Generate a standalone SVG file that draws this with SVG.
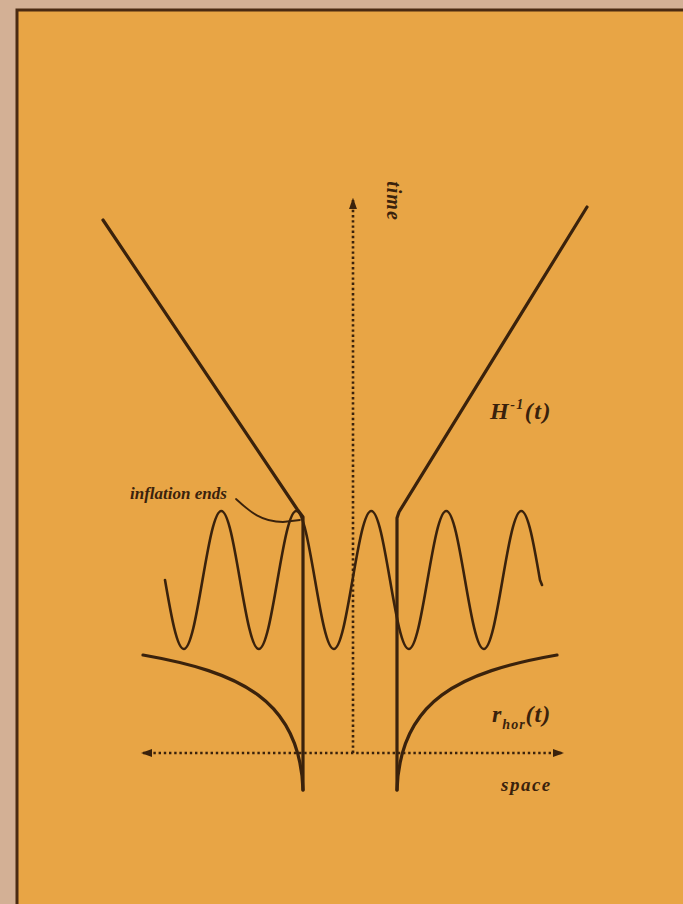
<svg xmlns="http://www.w3.org/2000/svg" width="683" height="904" viewBox="0 0 683 904">
<defs>
<style>
.ln{fill:none;stroke:#3a220c;stroke-linecap:round;stroke-linejoin:round}
.thick{stroke-width:3.2}
.wave{stroke-width:2.6}
.axis{fill:none;stroke:#3a220c;stroke-width:2.6;stroke-dasharray:2.4 2.8}
.lbl{font-family:"Liberation Serif","Times New Roman",serif;font-weight:bold;font-style:italic;fill:#3a220c}
</style>
<marker id="ah" viewBox="0 0 10 10" refX="8" refY="5" markerWidth="4.5" markerHeight="4.5" orient="auto-start-reverse" markerUnits="strokeWidth">
<path d="M0,1.5 L10,5 L0,8.5 z" fill="#3a220c"/>
</marker>
</defs>
<rect x="0" y="0" width="683" height="904" fill="#d3b095"/>
<rect x="17" y="10" width="680" height="910" fill="#e8a545" stroke="#4a2a12" stroke-width="3"/>

<g id="connectors">
<line id="time-axis" class="axis" x1="353" y1="753" x2="353" y2="200" marker-end="url(#ah)"/>
<line id="space-axis" class="axis" x1="143" y1="753" x2="562" y2="753" marker-start="url(#ah)" marker-end="url(#ah)"/>
</g>

<g id="hubble-left">
<path class="ln thick" d="M103,220 L297,509 L303,517 L303,790"/>
</g>
<g id="hubble-right">
<path class="ln thick" d="M587,207 L399,512 L397,518 L397,790"/>
</g>

<g id="wave">
<path class="ln wave" d="M165,580 C171.1,615.4 177,649 183.8,649 S196.4,615.4 202.5,580 S214.5,511 221.3,511 S233.9,544.6 240,580 S252,649 258.8,649 S271.4,615.4 277.5,580 S289.5,511 296.3,511 S308.9,544.6 315,580 S327,649 333.8,649 S346.4,615.4 352.5,580 S364.5,511 371.3,511 S383.9,544.6 390,580 S402,649 408.8,649 S421.4,615.4 427.5,580 S439.5,511 446.3,511 S458.9,544.6 465,580 S477,649 483.8,649 S496.4,615.4 502.5,580 S514.5,511 521.3,511 S533.9,544.6 540,580 L542,585"/>
</g>

<g id="horizon-left">
<path class="ln thick" d="M143,655 C240,672 300,700 303,790"/>
</g>
<g id="horizon-right">
<path class="ln thick" d="M557,655 C460,672 400,700 397,790"/>
</g>

<g id="inflation-ends">
<text class="lbl" x="130" y="499" font-size="17">inflation ends</text>
<path class="ln" stroke-width="1.8" d="M236,499 C250,512 262,522 283,522 L300,520"/>
</g>

<g id="label-hubble">
<text class="lbl" x="490" y="419" font-size="24" letter-spacing="1.5">H<tspan font-size="14" dy="-10">-1</tspan><tspan dy="10">(t)</tspan></text>
</g>
<g id="label-rhor">
<text class="lbl" x="492" y="722" font-size="24" letter-spacing="1">r<tspan font-size="14" dy="7">hor</tspan><tspan dy="-7">(t)</tspan></text>
</g>
<g id="label-space">
<text class="lbl" x="501" y="791" font-size="19" letter-spacing="1.5">space</text>
</g>
<g id="label-time">
<text class="lbl" transform="translate(387,201) rotate(90)" text-anchor="middle" font-size="20" letter-spacing="1">time</text>
</g>
</svg>
